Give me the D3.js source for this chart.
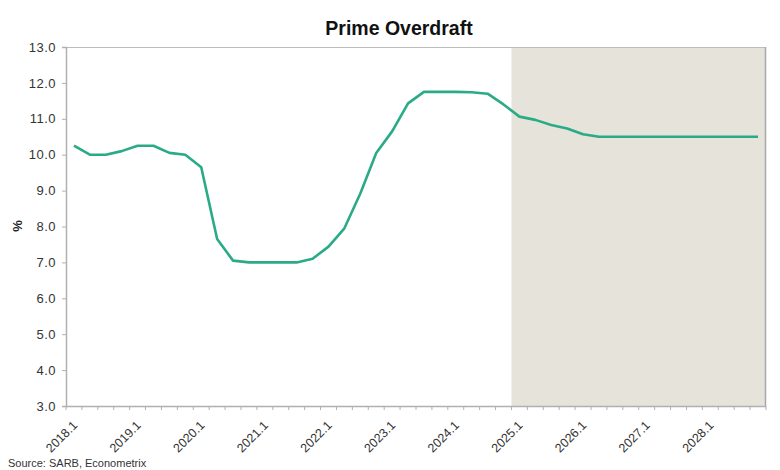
<!DOCTYPE html>
<html><head><meta charset="utf-8">
<script src="https://cdn.jsdelivr.net/npm/d3@7"></script>
<style>body{margin:0;background:#fff;} text{font-family:Arial,"Liberation Sans",sans-serif;}</style>
</head><body>
<svg id="c" width="780" height="470"></svg>
<script>
const years = [2018,2019,2020,2021,2022,2023,2024,2025,2026,2027,2028];
const categories = [];
years.forEach(y => [1,2,3,4].forEach(q => categories.push(y + "." + q)));
const primeOverdraft = [
  10.25,10.0,10.0,10.1,
  10.25,10.25,10.05,10.0,
  9.65,7.65,7.05,7.0,
  7.0,7.0,7.0,7.1,
  7.44,7.95,8.92,10.05,
  10.65,11.43,11.75,11.75,
  11.75,11.74,11.7,11.4,
  11.06,10.97,10.83,10.73,
  10.57,10.5,10.5,10.5,
  10.5,10.5,10.5,10.5,
  10.5,10.5,10.5,10.5
];
const yTicks = [3,4,5,6,7,8,9,10,11,12,13];
const forecastStart = "2025.1";
const title = "Prime Overdraft";
const yLabel = "%";
const source = "Source: SARB, Econometrix";

const svg = d3.select("#c");
const m = {l:66, r:766, t:47, b:406};
const x = d3.scaleBand().domain(categories).range([m.l, m.r]);
const y = d3.scaleLinear().domain([3,13]).range([m.b, m.t]);

// forecast shading
svg.append("rect")
  .attr("x", x(forecastStart)).attr("y", m.t)
  .attr("width", m.r - x(forecastStart)).attr("height", m.b - m.t)
  .attr("fill", "#e6e4da");

// top border
svg.append("line").attr("x1", m.l).attr("x2", m.r).attr("y1", m.t+0.5).attr("y2", m.t+0.5)
  .attr("stroke", "#bdbdbd").attr("stroke-width", 1);
// right border
svg.append("line").attr("x1", m.r-0.5).attr("x2", m.r-0.5).attr("y1", m.t).attr("y2", m.b)
  .attr("stroke", "#a8a8a8").attr("stroke-width", 1.5);

// y axis
const yAxis = svg.append("g").attr("transform", `translate(${m.l},0)`)
  .call(d3.axisLeft(y).tickValues(yTicks).tickFormat(d3.format(".1f")).tickSizeOuter(0).tickSize(4).tickPadding(6));
yAxis.select(".domain").attr("stroke", "#b0b0b0").attr("stroke-width", 1.5);
yAxis.selectAll(".tick line").attr("stroke", "#b0b0b0");
yAxis.selectAll("text").attr("font-size", 13).attr("letter-spacing", "0.5px").attr("fill", "#333");

// x axis
const xg = svg.append("g").attr("transform", `translate(0,${m.b})`);
xg.append("line").attr("x1", m.l).attr("x2", m.r).attr("y1", 0.5).attr("y2", 0.5)
  .attr("stroke", "#b0b0b0").attr("stroke-width", 1.5);
const edges = categories.map(c => x(c)).concat([m.r]);
xg.selectAll("line.tk").data(edges).enter().append("line").attr("class","tk")
  .attr("x1", d => d).attr("x2", d => d).attr("y1", 0).attr("y2", 4)
  .attr("stroke", "#b0b0b0");
xg.selectAll("text").data(categories.filter(c => c.endsWith(".1"))).enter().append("text")
  .attr("transform", d => `translate(${x(d) + x.bandwidth()/2 + 1},${17}) rotate(-45)`)
  .attr("text-anchor", "end").attr("dy", "0.35em")
  .attr("font-size", 12.5).attr("fill", "#333").text(d => d);

// line
const line = d3.line().x((d,i) => x(categories[i]) + x.bandwidth()/2).y(d => y(d));
svg.append("path").datum(primeOverdraft).attr("d", line)
  .attr("fill", "none").attr("stroke", "#2aaa86").attr("stroke-width", 2.6)
  .attr("stroke-linejoin", "round");

// title
svg.append("text").attr("x", 399).attr("y", 35).attr("text-anchor", "middle")
  .attr("font-size", 19.5).attr("font-weight", "bold").attr("fill", "#111").text(title);
// y label
svg.append("text").attr("transform", "translate(22,226) rotate(-90)").attr("text-anchor", "middle")
  .attr("font-size", 13).attr("font-weight", "bold").attr("fill", "#222").text(yLabel);
// source
svg.append("text").attr("x", 8).attr("y", 467).attr("font-size", 11).attr("fill", "#333").text(source);
</script>
</body></html>
